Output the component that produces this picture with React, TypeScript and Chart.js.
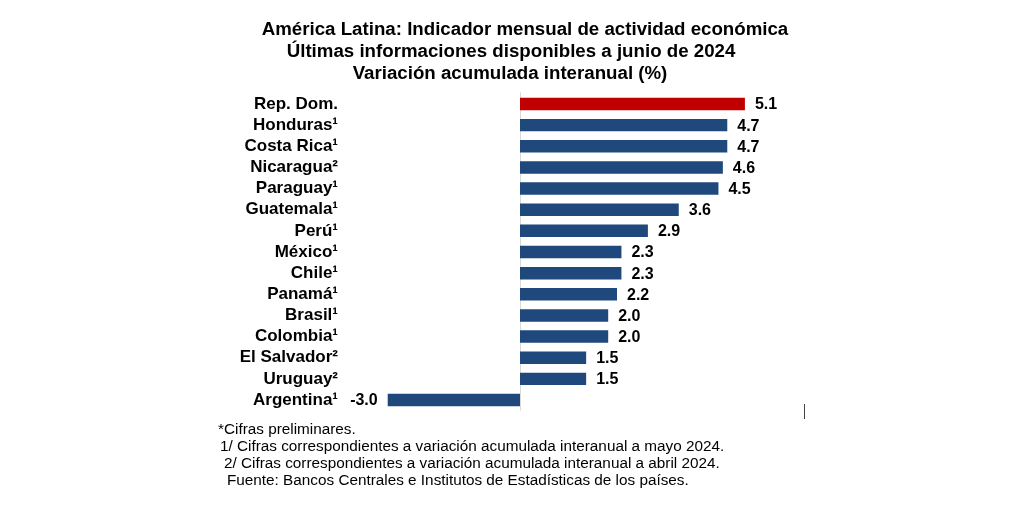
import React, { useEffect, useRef } from "react";
import { Chart, registerables } from "chart.js";

Chart.register(...registerables);

const countries = [
  "Rep. Dom.",
  "Honduras¹",
  "Costa Rica¹",
  "Nicaragua²",
  "Paraguay¹",
  "Guatemala¹",
  "Perú¹",
  "México¹",
  "Chile¹",
  "Panamá¹",
  "Brasil¹",
  "Colombia¹",
  "El Salvador²",
  "Uruguay²",
  "Argentina¹",
];
const values = [5.1, 4.7, 4.7, 4.6, 4.5, 3.6, 2.9, 2.3, 2.3, 2.2, 2.0, 2.0, 1.5, 1.5, -3.0];
const highlightCountry = "Rep. Dom.";

const titleLines = [
  "América Latina: Indicador mensual de actividad económica",
  "Últimas informaciones disponibles a junio de 2024",
  "Variación acumulada interanual (%)",
];
const footnotes = [
  "*Cifras preliminares.",
  "1/ Cifras correspondientes a variación acumulada interanual a mayo 2024.",
  "2/ Cifras correspondientes a variación acumulada interanual a abril 2024.",
  "Fuente: Bancos Centrales e Institutos de Estadísticas de los países.",
];

const FONT = "'Liberation Sans', Arial, sans-serif";
const RED = "#C00000";
const BLUE = "#1F497D";

const decorPlugin = {
  id: "decor",
  beforeDatasetsDraw(chart: any) {
    const { ctx, chartArea, scales } = chart;
    const x0 = scales.x.getPixelForValue(0);
    ctx.save();
    ctx.strokeStyle = "#d9d9d9";
    ctx.lineWidth = 1;
    ctx.beginPath();
    ctx.moveTo(Math.round(x0) + 0.5, chartArea.top - 1);
    ctx.lineTo(Math.round(x0) + 0.5, chartArea.bottom);
    ctx.stroke();
    ctx.restore();
  },
  afterDraw(chart: any) {
    const { ctx } = chart;
    ctx.save();
    ctx.fillStyle = "#000";
    ctx.font = `bold 18.7px ${FONT}`;
    ctx.textAlign = "center";
    ctx.textBaseline = "alphabetic";
    const tx = [525, 511, 510];
    const ty = [35, 57, 79];
    titleLines.forEach((t, i) => ctx.fillText(t, tx[i], ty[i]));
    ctx.font = `15.3px ${FONT}`;
    ctx.textAlign = "left";
    const fx = [218, 220, 224, 227];
    const fy = [434, 451, 468, 485];
    footnotes.forEach((t, i) => ctx.fillText(t, fx[i], fy[i]));
    ctx.strokeStyle = "#444";
    ctx.lineWidth = 1;
    ctx.beginPath();
    ctx.moveTo(804.5, 404);
    ctx.lineTo(804.5, 419);
    ctx.stroke();
    ctx.restore();
  },
  afterDatasetsDraw(chart: any) {
    const { ctx } = chart;
    const meta = chart.getDatasetMeta(0);
    ctx.save();
    ctx.fillStyle = "#000";
    ctx.font = `bold 16px ${FONT}`;
    ctx.textBaseline = "middle";
    meta.data.forEach((bar: any, i: number) => {
      const v = values[i];
      const label = v.toFixed(1);
      if (v >= 0) {
        ctx.textAlign = "left";
        ctx.fillText(label, bar.x + 10, bar.y + 1);
      } else {
        ctx.textAlign = "right";
        ctx.fillText(label, bar.x - 10, bar.y + 1);
      }
    });
    ctx.restore();
  },
};

export default function App() {
  const canvasRef = useRef<HTMLCanvasElement | null>(null);

  useEffect(() => {
    if (!canvasRef.current) return;
    const chart = new Chart(canvasRef.current, {
      type: "bar",
      data: {
        labels: countries,
        datasets: [
          {
            data: values,
            backgroundColor: countries.map((c) => (c === highlightCountry ? RED : BLUE)),
            borderWidth: 0,
            barPercentage: 0.59,
            categoryPercentage: 1,
          },
        ],
      },
      options: {
        indexAxis: "y",
        animation: false,
        responsive: true,
        maintainAspectRatio: false,
        layout: {
          padding: { left: 0, right: 217.35, top: 93.4, bottom: 108.4 },
        },
        plugins: {
          legend: { display: false },
          title: { display: false },
          tooltip: { enabled: false },
        },
        scales: {
          x: {
            display: false,
            min: -4,
            max: 6.5,
          },
          y: {
            afterFit(scale: any) {
              scale.width = 343.6;
            },
            grid: { display: false, drawTicks: false },
            border: { display: false },
            ticks: {
              autoSkip: false,
              padding: 5.6,
              color: "#000",
              font: { family: FONT, size: 17, weight: "bold" },
            },
          },
        },
      },
      plugins: [decorPlugin],
    });
    return () => chart.destroy();
  }, []);

  return (
    <div style={{ position: "fixed", left: 0, top: 0, width: 1024, height: 519, background: "#fff" }}>
      <canvas ref={canvasRef} />
    </div>
  );
}
